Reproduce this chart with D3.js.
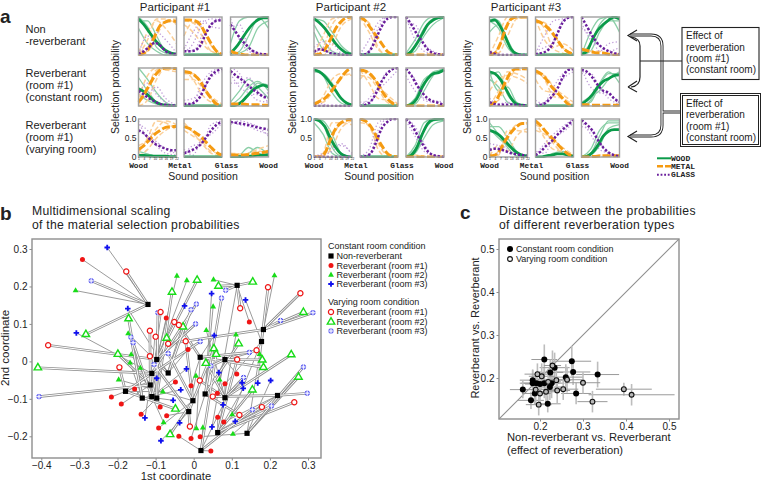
<!DOCTYPE html>
<html>
<head>
<meta charset="utf-8">
<script src="https://cdn.jsdelivr.net/npm/d3@7"></script>
<style>
html, body { margin: 0; padding: 0; background: #fff; }
text { font-family: "Liberation Sans", Arial, sans-serif; fill: #222; }
.mono { font-family: "Liberation Mono", monospace; font-weight: bold; }
</style>
</head>
<body>
<div id="chart"></div>
<script>
// panel a: sound positions the curves were read at
var boldPositions = [1, 4, 7, 10, 13, 16, 19, 22];
var thinPositions = [1, 6, 11, 16, 22];
var positionTicks = [1, 4, 7, 10, 13, 16, 19, 22];
var participants = ["Participant #1", "Participant #2", "Participant #3"];
var rowLabels = [["Non", "-reverberant"], ["Reverberant", "(room #1)", "(constant room)"], ["Reverberant", "(room #1)", "(varying room)"]];
var materialLabels = ["Wood", "Metal", "Glass", "Wood"];
var legendLabels = ["WOOD", "METAL", "GLASS"];
var zero = [0, 0, 0, 0, 0, 0, 0, 0];

// bold curves, 27 panels: participant by participant, row by row
var woodBold = [
  [.95,.8,.6,.4,.25,.12,.05,.02], zero, [.05,.2,.4,.62,.8,.92,.98,.98],
  [.45,.38,.25,.12,.05,.02,0,0], zero, [0,.02,.1,.25,.4,.5,.55,.5],
  [.05,.04,.03,.02,.02,.02,.01,.01], zero, [0,.01,.01,.02,.03,.05,.05,.06],
  [.95,.85,.7,.5,.3,.15,.05,.02], zero, [0,.1,.3,.55,.8,.92,.98,1],
  [.95,.9,.78,.6,.4,.2,.08,.03], zero, [0,.05,.2,.5,.72,.85,.88,.95],
  [1,.95,.8,.5,.25,.08,.02,0], zero, [0,.05,.25,.6,.88,.98,1,1],
  [.9,.92,.75,.45,.15,.03,0,0], zero, [.02,.1,.4,.65,.8,.92,1,.95],
  [.9,.85,.7,.45,.2,.05,.02,0], zero, [.05,.15,.3,.5,.65,.72,.8,.82],
  [.7,.65,.55,.4,.25,.12,.05,.03], [0,0,.03,.05,.08,.08,.05,.02], [0,.02,.12,.3,.55,.68,.72,.72]
];
var metalBold = [
  [0,.05,.2,.5,.78,.87,.9,.88], [.92,.92,.9,.8,.55,.3,.1,.02], [.1,.05,.02,0,0,0,0,0],
  [.1,.3,.55,.8,.95,1,1,.98], [.9,.88,.8,.65,.4,.2,.05,0], [.05,.05,.05,.04,.03,.03,.02,.02],
  [.2,.3,.45,.6,.7,.78,.8,.8], [.8,.75,.65,.55,.4,.25,.12,.05], [.05,.05,.05,.06,.08,.1,.12,.15],
  [0,.02,.15,.4,.7,.88,.98,1], [1,.9,.7,.5,.3,.1,.02,0], zero,
  [.05,.12,.2,.35,.55,.75,.92,1], [.95,.92,.82,.65,.4,.2,.07,.02], zero,
  [0,0,.1,.45,.75,.9,.97,1], [1,.95,.8,.55,.3,.1,.02,0], zero,
  [0,.05,.3,.7,.95,1,1,1], [.9,.85,.75,.6,.4,.2,.08,.02], [.15,.12,.08,.05,.05,.02,0,0],
  [.02,.1,.35,.65,.9,.98,.98,1], [.92,.85,.7,.5,.35,.2,.05,0], [.03,.03,.02,.02,.02,.02,.02,.02],
  [.03,.05,.2,.45,.65,.8,.88,.88], [.95,.82,.65,.5,.35,.2,.08,.02], [0,0,.01,.02,.03,.03,.03,.03]
];
var glassBold = [
  [.03,.1,.22,.32,.25,.1,.04,.02], [.1,.1,.12,.25,.55,.8,.9,.92], [.8,.6,.4,.25,.12,.05,.02,.02],
  [.4,.3,.2,.12,.05,.03,.01,.01], [.05,.05,.1,.25,.55,.8,.92,.97], [.92,.8,.7,.58,.45,.35,.25,.22],
  [.7,.62,.48,.35,.28,.22,.18,.18], [.1,.15,.22,.32,.5,.7,.85,.92], [.92,.9,.88,.85,.82,.78,.75,.72],
  [.08,.15,.12,.05,.02,0,0,0], [0,.02,.15,.45,.75,.95,1,1], [1,.8,.55,.35,.15,.05,.02,0],
  zero, [0,.03,.12,.35,.65,.85,.97,1], [.98,.8,.55,.35,.2,.12,.08,.02],
  zero, [0,.02,.1,.4,.75,.92,1,1], [1,.85,.6,.35,.15,.05,.02,0],
  [.08,.03,0,0,0,0,0,0], [.02,.05,.1,.25,.55,.85,.98,1], [1,.75,.5,.3,.18,.1,.05,.02],
  [.1,.05,.03,.03,.04,.03,.02,.02], [0,.03,.1,.25,.45,.75,.95,.97], [.95,.9,.75,.55,.4,.35,.2,.1],
  [.18,.22,.2,.15,.1,.07,.05,.03], [.05,.15,.3,.42,.58,.72,.85,.97], [.97,.85,.7,.45,.25,.12,.05,.02]
];

// thin curves (single runs), same panel order
var woodThin = [
  [[1,.75,.2,.05,0],[.9,.9,.5,.1,.02],[.7,.3,.1,0,0]], [], [[.3,.9,1,1,.7],[0,.1,.5,.95,1],[0,.05,.2,.7,.9]],
  [[1,.7,.35,.1,0],[.75,.4,.1,0,0],[.3,.15,.05,.02,0]], [], [[.1,.4,.7,.5,.2],[.02,.2,.5,.65,.4],[0,.05,.3,.6,.55]],
  [[.15,.08,.02,0,0]], [], [[0,.05,.25,.1,.02],[0,0,.1,.25,.05]],
  [[.95,.9,.6,.25,.02],[.8,.4,.1,.02,0],[.6,.15,.05,0,0]], [], [[.05,.4,.85,1,1],[0,.25,.7,.95,1],[0,.1,.5,.8,.98]],
  [[.95,.8,.35,.08,0],[.9,.85,.6,.2,.02]], [], [[0,.2,.7,.85,.95],[0,.1,.55,.9,.95],[0,.05,.4,.8,1]],
  [[1,.85,.25,.02,0],[.9,.6,.1,0,0],[1,.95,.6,.1,0]], [], [[0,.3,.9,1,1],[0,.2,.7,.95,1],[0,.1,.5,.85,.95]],
  [[.9,.7,.2,0,0],[1,.9,.4,.02,0],[.6,.8,.3,0,0]], [], [[0,.6,.95,1,.6],[.05,.3,.8,1,1],[0,.1,.6,.9,.9]],
  [[.8,.9,.3,.05,0],[.7,.5,.1,.02,0],[.9,.4,.5,.1,0]], [], [[.02,.1,.55,.85,.85],[.1,.25,.4,.7,.9],[0,.15,.6,.9,.6]],
  [[.8,.8,.5,.15,0],[.9,.6,.25,.03,0],[.75,.5,.3,.1,.02]], [[0,.02,.1,.15,.02]], [[0,.2,.7,.9,.9],[0,.1,.55,.95,.95],[0,.05,.3,.75,.85]]
];
var metalThin = [
  [[.05,.6,.9,.7,.3],[0,.4,.95,.95,.8],[.1,.1,.5,.9,.95]], [[.9,.85,.5,.1,0],[.5,.85,.7,.25,.02],[.8,.6,.3,.1,.03]], [[.05,0,0,0,0]],
  [[.02,.5,.95,1,.95],[.2,.8,1,.95,.9],[0,.15,.7,1,1]], [[.95,.7,.3,.1,0],[.7,.7,.5,.25,.05],[.85,.85,.6,.2,.02]], [],
  [[.1,.5,.95,.9,.7],[.3,.45,.75,.95,.85],[.02,.2,.5,.7,.85]], [[.9,.65,.35,.1,.02],[.7,.55,.4,.15,.1]], [[.05,.02,.1,.2,.3],[.1,.08,.02,.15,.08]],
  [[0,.2,.8,1,1],[0,0,.25,.75,.95],[.02,.5,.95,1,1]], [[.95,.85,.2,0,0],[1,.6,.15,.02,0]], [],
  [[0,.25,.7,.85,.8],[.05,.1,.35,.75,.85]], [[.8,.75,.45,.1,0],[.95,.6,.2,.15,.05],[.7,.9,.55,.3,.05]], [],
  [[0,.02,.5,.9,.98],[0,.1,.9,.9,.85],[0,.02,.25,.75,.95]], [[1,.8,.35,.05,0],[.9,.85,.2,0,0]], [[.02,.05,.02,0,0]],
  [[0,.5,1,1,1],[0,.2,.85,1,1],[0,.05,.5,.95,1]], [[.95,.4,.15,.05,0],[.9,.85,.55,.2,.05],[.95,.7,.2,.3,.1]], [[.15,.1,.1,.02,0]],
  [[0,.4,.9,.85,.7],[.05,.15,.6,.95,.95],[.4,.7,.8,.75,.6]], [[.95,.7,.25,.2,.02],[.85,.8,.5,.3,.1],[.7,.4,.35,.2,.02]], [],
  [[0,.15,.55,.85,.9],[.02,.3,.15,.55,.75],[0,.05,.7,.7,.65]], [[.85,.7,.35,.1,0],[.95,.5,.2,.15,.02],[.7,.6,.45,.25,.05]], [[0,0,.05,.02,.02]]
];
var glassThin = [
  [[.1,.2,.6,.4,.05],[.02,.5,.3,.1,0]], [[.05,.3,.8,.95,.9],[.2,.1,.5,.8,1],[.15,.6,.9,.75,.7]], [[.95,.4,.1,.02,0],[.7,.8,.2,.05,0]],
  [[.3,.6,.3,.1,0],[.1,.3,.5,.2,.02]], [[0,.1,.6,.9,1],[.15,.2,.4,.75,.9]], [[1,.85,.4,.15,.1],[.85,.5,.35,.3,.35],[.6,.6,.75,.4,.1]],
  [[.85,.7,.3,.1,.05],[.95,.5,.4,.2,.1]], [[.05,.3,.35,.85,.95],[.2,.05,.5,.6,.9]], [[.95,.85,.8,.7,.6],[.85,.95,.9,.8,.55]],
  [[.2,.35,.1,0,0],[.05,.2,.3,.05,0]], [[0,.1,.7,1,1],[.02,.4,.85,1,1]], [[1,.4,.1,.02,0],[.85,.8,.3,.1,0]],
  [[.1,.05,0,0,0]], [[0,.2,.5,.9,1],[.1,.1,.4,.65,.95]], [[.8,.4,.2,.15,.1],[.95,.7,.15,.1,.05]],
  [[.02,.1,.25,.3,.1],[0,.05,.15,.35,.05]], [[0,.05,.7,1,1],[.02,.2,.9,1,1]], [[.95,.55,.15,.05,0],[1,.8,.35,.05,0]],
  [[.1,.02,0,0,0]], [[.05,.5,.9,.95,1],[.1,.2,.35,.9,1]], [[.85,.4,.25,.1,.2],[.7,.5,.1,.3,.35]],
  [[.2,.05,.1,.02,0]], [[.05,.1,.5,.85,1],[.15,.05,.3,.7,.9]], [[.85,.85,.5,.2,.05],[1,.5,.35,.3,.1]],
  [[.35,.3,.2,.1,.05],[.05,.1,.3,.1,.02]], [[.05,.35,.6,.8,1],[.15,.1,.5,.65,.9]], [[.95,.6,.2,.1,0],[.8,.7,.4,.05,.02]]
];

// panel b: [1st coordinate, 2nd coordinate]
var nonReverb = [
  [-.120,.152],[-.097,.005],[-.110,-.032],[-.067,-.031],[-.114,-.063],[-.179,-.080],[-.135,-.098],[-.110,-.094],
  [-.097,-.098],[-.002,-.105],[-.013,-.134],[.114,.203],[.183,.085],[.178,.053],[.017,.011],[.082,.005],
  [.220,-.091],[.030,-.087],[.082,-.097],[.063,-.190],[.140,-.192],[.019,-.238]
];
// the rest: [1st, 2nd, index of the linked non-reverberant point]
var constRoom1 = [
  [-.292,.272,0],[-.072,.116,1],[-.015,.032,3],[-.048,-.055,7],[-.155,-.074,6],[-.007,-.065,14],[-.216,-.095,5],
  [-.190,-.114,4],[-.088,-.122,2],[-.138,-.141,8],[-.071,-.145,10],[-.092,-.178,9],[-.039,-.200,21],[-.007,-.206,17],
  [.146,.105,11],[.113,-.034,15],[.082,-.060,18],[.062,-.085,13],[.063,-.149,19],[.079,-.162,16],[.017,-.201,20],[.045,-.239,21]
];
var constRoom2 = [
  [-.310,.189,0],[-.044,.228,1],[-.018,.216,2],[-.172,.074,3],[-.164,.018,4],[-.167,-.004,6],[-.140,-.018,8],[-.197,-.049,9],
  [-.081,-.081,5],[-.079,-.163,7],[.006,-.039,10],[.007,-.179,14],[.052,.218,11],[.212,.229,12],[.051,.146,17],[.033,.083,18],
  [.111,.071,19],[.068,-.049,15],[.173,.019,20],[.101,-.142,13],[.024,-.177,21],[.103,-.194,16]
];
var constRoom3 = [
  [-.227,.304,0],[-.173,.141,3],[-.024,.148,1],[-.308,.076,2],[-.019,-.020,7],[-.097,-.045,5],[-.034,-.076,6],[-.054,-.104,8],
  [-.128,-.151,4],[-.037,-.164,9],[-.086,-.212,10],[.047,.181,17],[.136,.164,13],[.054,.069,14],[.066,-.030,15],[.127,-.057,18],
  [.168,-.058,12],[.202,-.051,20],[.130,-.072,19],[.077,-.116,21],[.109,-.160,16],[.048,-.175,11]
];
var varyRoom1 = [
  [-.177,.240,0],[-.087,.132,2],[-.051,.105,1],[-.039,.097,14],[-.115,.082,4],[-.100,.066,7],[-.067,.047,12],[-.021,.054,9],
  [-.382,.043,1],[-.115,.014,3],[-.195,-.016,5],[.016,-.051,18],[-.010,-.174,10],[.195,.198,13],[.280,.182,12],[.122,.142,11],
  [.165,.030,15],[.114,.005,19],[.050,-.094,16],[.264,-.109,19],[.179,-.122,19],[.120,-.143,17]
];
var varyRoom2 = [
  [-.409,-.017,2],[-.283,.072,0],[-.199,.019,4],[-.171,.114,6],[-.057,.185,8],[.009,.217,1],[-.071,.062,7],[-.028,.092,3],
  [-.048,-.127,5],[-.062,-.195,9],[.065,.201,11],[.155,.212,11],[.288,.131,12],[.118,.047,17],[.053,.034,10],[.059,.019,21],
  [.032,-.005,18],[.180,.004,15],[.183,-.016,14],[.256,.018,18],[.275,-.042,20],[.154,-.076,19]
];
var varyRoom3 = [
  [-.269,.215,0],[-.094,.130,8],[-.007,.138,3],[.007,.153,2],[.005,.100,1],[-.165,.065,6],[-.159,.050,7],[-.067,.021,9],
  [-.104,-.008,10],[-.406,-.094,4],[.084,.190,11],[.073,.169,17],[.017,.053,5],[.228,.109,12],[.313,.130,12],[.146,.024,14],
  [.288,-.015,20],[.045,-.012,15],[.131,-.043,18],[.298,-.085,16],[.204,-.119,19],[.154,-.129,21]
];
var mdsXTicks = [-.4, -.3, -.2, -.1, 0, .1, .2, .3];
var mdsYTicks = [-.2, -.1, 0, .1, .2, .3];

// panel c: [x, y, x error, y error]
var constDistance = [
  [.210,.243,.030,.035],[.274,.239,.045,.035],[.234,.224,.035,.035],[.224,.213,.030,.030],[.277,.214,.040,.030],
  [.334,.208,.050,.030],[.260,.202,.040,.030],[.183,.195,.030,.025],[.183,.188,.030,.030],[.192,.188,.035,.025],
  [.200,.186,.035,.030],[.210,.188,.035,.035],[.227,.188,.030,.035],[.160,.173,.030,.020],[.223,.179,.035,.030],
  [.188,.164,.030,.025],[.284,.164,.035,.025],[.179,.148,.030,.020],[.218,.140,.030,.020]
];
var varyDistance = [
  [.229,.229,.020,.035],[.194,.209,.030,.025],[.204,.204,.030,.030],[.238,.195,.035,.030],[.263,.196,.040,.030],
  [.219,.191,.030,.030],[.300,.189,.040,.025],[.190,.173,.030,.030],[.395,.174,.065,.015],[.254,.174,.035,.025],
  [.240,.171,.030,.030],[.200,.164,.025,.030],[.214,.168,.030,.030],[.413,.161,.100,.025],[.322,.145,.035,.025],[.197,.138,.030,.025]
];
var distTicks = [.2, .3, .4, .5];
var distLimits = [.105, .523];

var svg = d3.select("#chart").append("svg").attr("width", 761).attr("height", 481);

var woodColor = "#0b9b4a", metalColor = "#f59b12", glassColor = "#6a1f9c";
var gray = "#8e8e8e";

// --- panel a ---
var panelSize = 38;
var columnX = [[138.5, 184, 230.5], [314, 360, 406], [489.5, 535.5, 581.5]];
var rowY = [17, 68, 119];
var titleX = [175, 351, 526];
var ylabelX = [119, 296, 471];

var panelX = d3.scaleLinear().domain([1, 22]).range([0, panelSize]);
var panelY = d3.scaleLinear().domain([0, 1]).range([panelSize, 0]);
var boldLine = d3.line().x(function (d, i) { return panelX(boldPositions[i]); }).y(function (d) { return panelY(d); }).curve(d3.curveMonotoneX);
var thinLine = d3.line().x(function (d, i) { return panelX(thinPositions[i]); }).y(function (d) { return panelY(d); }).curve(d3.curveMonotoneX);

var clip = svg.append("clipPath").attr("id", "panelClip").append("rect")
  .attr("x", -1).attr("y", -1).attr("width", panelSize + 2).attr("height", panelSize + 2);

function drawPanel(x, y, index) {
  var g = svg.append("g").attr("transform", "translate(" + x + "," + y + ")");
  var inner = g.append("g").attr("clip-path", "url(#panelClip)");
  function thin(curves, color, dash, width) {
    curves.forEach(function (c) {
      inner.append("path").attr("d", thinLine(c)).attr("fill", "none")
        .attr("stroke", color).attr("stroke-width", width).attr("stroke-dasharray", dash);
    });
  }
  thin(woodThin[index], "#8ccfa8", null, 1.3);
  thin(metalThin[index], "#fbcf98", "5,2.5", 1.5);
  thin(glassThin[index], "#bf9cd8", "1.3,2.2", 1.3);
  inner.append("path").attr("d", boldLine(woodBold[index])).attr("fill", "none")
    .attr("stroke", woodColor).attr("stroke-width", 2.8);
  inner.append("path").attr("d", boldLine(metalBold[index])).attr("fill", "none")
    .attr("stroke", metalColor).attr("stroke-width", 3).attr("stroke-dasharray", "8,2.5");
  inner.append("path").attr("d", boldLine(glassBold[index])).attr("fill", "none")
    .attr("stroke", glassColor).attr("stroke-width", 2.5).attr("stroke-dasharray", "2.4,1.8");
  g.append("rect").attr("width", panelSize).attr("height", panelSize)
    .attr("fill", "none").attr("stroke", "#a0a0a0").attr("stroke-width", 1.4);
  return g;
}

participants.forEach(function (name, p) {
  svg.append("text").attr("x", titleX[p]).attr("y", 10.5).attr("text-anchor", "middle")
    .attr("font-size", 11.5).text(name);
  rowY.forEach(function (y, r) {
    columnX[p].forEach(function (x, c) {
      drawPanel(x, y, p * 9 + r * 3 + c);
    });
  });
  // ticks of the bottom left panel
  var corner = svg.append("g").attr("transform", "translate(" + columnX[p][0] + "," + rowY[2] + ")");
  var yAxis = d3.axisLeft(panelY).tickValues([0, .5, 1]).tickSize(0).tickPadding(2)
    .tickFormat(function (d) { return d === 0 ? "0" : d3.format(".1f")(d); });
  corner.append("g").call(yAxis).call(function (s) {
    s.select(".domain").remove();
    s.selectAll("text").attr("font-size", 8.5).attr("font-family", null);
  });
  var xAxis = d3.axisBottom(panelX).tickValues(positionTicks).tickSize(0).tickPadding(1);
  corner.append("g").attr("transform", "translate(0," + panelSize + ")").call(xAxis).call(function (s) {
    s.select(".domain").remove();
    s.selectAll("text").attr("font-size", 3.2).attr("font-family", null);
  });
  // material names under the row
  var matX = [columnX[p][0], columnX[p][1] - 4, columnX[p][2] - 4, columnX[p][2] + panelSize];
  materialLabels.forEach(function (m, i) {
    svg.append("text").attr("class", "mono").attr("x", matX[i]).attr("y", 167.5)
      .attr("text-anchor", "middle").attr("font-size", 7.8).text(m);
  });
  svg.append("text").attr("x", columnX[p][1] + panelSize / 2).attr("y", 180)
    .attr("text-anchor", "middle").attr("font-size", 10.5).text("Sound position");
  svg.append("text").attr("transform", "translate(" + ylabelX[p] + ",87) rotate(-90)")
    .attr("text-anchor", "middle").attr("font-size", 10.5).text("Selection probability");
});

svg.append("text").attr("x", 0).attr("y", 23).attr("font-size", 19).attr("font-weight", "bold").text("a");

var rowTextY = [[33, 45], [77, 89, 101], [129, 141, 153]];
rowLabels.forEach(function (lines, r) {
  lines.forEach(function (t, i) {
    svg.append("text").attr("x", 25.5).attr("y", rowTextY[r][i]).attr("font-size", 11).text(t);
  });
});

// legend for panel a
var legendY = [158.3, 166.3, 174.7];
legendLabels.forEach(function (t, i) {
  var styles = [[woodColor, 2, null], [metalColor, 2.6, "6,2"], [glassColor, 2, "1.8,1.8"]];
  svg.append("line").attr("x1", 657).attr("x2", 671).attr("y1", legendY[i]).attr("y2", legendY[i])
    .attr("stroke", styles[i][0]).attr("stroke-width", styles[i][1]).attr("stroke-dasharray", styles[i][2]);
  svg.append("text").attr("class", "mono").attr("x", 671).attr("y", legendY[i] + 2.5)
    .attr("font-size", 8).text(t);
});

// boxes and arrows on the right of panel a
svg.append("rect").attr("x", 682).attr("y", 27.5).attr("width", 77).attr("height", 52)
  .attr("fill", "#fff").attr("stroke", "#222").attr("stroke-width", 1.1);
svg.append("rect").attr("x", 680.5).attr("y", 93.5).attr("width", 80).attr("height", 53)
  .attr("fill", "#fff").attr("stroke", "#222").attr("stroke-width", 1);
svg.append("rect").attr("x", 682.5).attr("y", 95.5).attr("width", 76).attr("height", 49)
  .attr("fill", "#fff").attr("stroke", "#222").attr("stroke-width", 1);
[[39, 50.5, 62, 73], [106.5, 118, 130, 141]].forEach(function (ys, b) {
  ["Effect of", "reverberation", "(room #1)", "(constant room)"].forEach(function (t, i) {
    svg.append("text").attr("x", 686).attr("y", ys[i]).attr("font-size", 10).text(t);
  });
});
// double lined arrow
var doubleArrow = "M630,35 H651 Q662,35 662,46 V125 Q662,136 651,136 H630 M662,112 H680";
svg.append("path").attr("d", doubleArrow).attr("fill", "none").attr("stroke", "#222").attr("stroke-width", 3);
svg.append("path").attr("d", doubleArrow).attr("fill", "none").attr("stroke", "#fff").attr("stroke-width", 1.2);
svg.append("path").attr("d", "M637,30 L628,35.5 L637,41 M637,131 L628,136.5 L637,142").attr("fill", "none").attr("stroke", "#222").attr("stroke-width", 1.2);
// single lined arrow
svg.append("path").attr("d", "M631,37 Q640,38 640,46 V77 Q640,86 631,87 M628,87 L637,81 M628,87 L637,92 M640,61 H682")
  .attr("fill", "none").attr("stroke", "#222").attr("stroke-width", 1.2);

// --- panel b ---
var mdsX = d3.scaleLinear().domain([-.4, .3]).range([41.3, 308]);
var mdsY = d3.scaleLinear().domain([-.2, .3]).range([436.3, 249]);

svg.append("text").attr("x", 0).attr("y", 220).attr("font-size", 19).attr("font-weight", "bold").text("b");
svg.append("text").attr("x", 32).attr("y", 215).attr("font-size", 12.2).attr("letter-spacing", .27).text("Multidimensional scaling");
svg.append("text").attr("x", 32).attr("y", 229).attr("font-size", 12.2).attr("letter-spacing", .27).text("of the material selection probabilities");

svg.append("rect").attr("x", 32).attr("y", 239).attr("width", 289).attr("height", 219)
  .attr("fill", "#fff").attr("stroke", gray).attr("stroke-width", 1.4);

function styleAxis(s) {
  s.select(".domain").remove();
  s.selectAll("line").attr("stroke", gray);
  s.selectAll("text").attr("font-size", 10).attr("font-family", null);
}
svg.append("g").attr("transform", "translate(0,458)")
  .call(d3.axisBottom(mdsX).tickValues(mdsXTicks).tickSize(2.5).tickPadding(1)
    .tickFormat(function (d) { return d === 0 ? "0" : d3.format(".1f")(d).replace("-", "\u2212"); }))
  .call(styleAxis);
svg.append("g").attr("transform", "translate(32,0)")
  .call(d3.axisLeft(mdsY).tickValues(mdsYTicks).tickSize(2.5).tickPadding(2)
    .tickFormat(function (d) { return d === 0 ? "0" : d3.format(".1f")(d).replace("-", "\u2212"); }))
  .call(styleAxis);
svg.append("text").attr("x", 176).attr("y", 480).attr("text-anchor", "middle").attr("font-size", 11.2).text("1st coordinate");
svg.append("text").attr("transform", "translate(9,348) rotate(-90)").attr("text-anchor", "middle").attr("font-size", 11.5).text("2nd coordinate");

function links(points, doubled) {
  var g = svg.append("g");
  points.forEach(function (d) {
    var o = nonReverb[d[2]];
    g.append("line").attr("x1", mdsX(d[0])).attr("y1", mdsY(d[1])).attr("x2", mdsX(o[0])).attr("y2", mdsY(o[1]))
      .attr("stroke", "#909090").attr("stroke-width", doubled ? 2.6 : .9);
  });
  if (doubled) {
    points.forEach(function (d) {
      var o = nonReverb[d[2]];
      g.append("line").attr("x1", mdsX(d[0])).attr("y1", mdsY(d[1])).attr("x2", mdsX(o[0])).attr("y2", mdsY(o[1]))
        .attr("stroke", "#fff").attr("stroke-width", 1);
    });
  }
}
[constRoom1, constRoom2, constRoom3].forEach(function (p) { links(p, false); });
[varyRoom1, varyRoom2, varyRoom3].forEach(function (p) { links(p, true); });

var symbolMarks = {
  square: function (g) { g.append("path").attr("d", d3.symbol(d3.symbolSquare, 27)()).attr("fill", "#000"); },
  dot: function (g) { g.append("circle").attr("r", 2.5).attr("fill", "#f01515"); },
  tri: function (g) { g.append("path").attr("d", d3.symbol(d3.symbolTriangle, 15)()).attr("fill", "#18dc18"); },
  plus: function (g) { g.append("path").attr("d", d3.symbol(d3.symbolCross, 17)()).attr("fill", "#1010ee"); },
  ring: function (g) { g.append("circle").attr("r", 2.6).attr("fill", "#fff").attr("stroke", "#ee1515").attr("stroke-width", 1.2); },
  bigTri: function (g) { g.append("path").attr("d", d3.symbol(d3.symbolTriangle, 24)()).attr("fill", "#fff").attr("stroke", "#18dc18").attr("stroke-width", 1.4); },
  crossRing: function (g) {
    g.append("circle").attr("r", 2.3).attr("fill", "#a8a8fa").attr("stroke", "#4a4af0").attr("stroke-width", 1);
    g.append("path").attr("d", "M-3.3,0H3.3M0,-3.3V3.3").attr("stroke", "#fff").attr("stroke-width", .8);
  }
};
function marks(points, kind) {
  points.forEach(function (d) {
    symbolMarks[kind](svg.append("g").attr("transform", "translate(" + mdsX(d[0]) + "," + mdsY(d[1]) + ")"));
  });
}
marks(varyRoom3, "crossRing");
marks(constRoom3, "plus");
marks(constRoom2, "tri");
marks(varyRoom2, "bigTri");
marks(constRoom1, "dot");
marks(varyRoom1, "ring");
marks(nonReverb, "square");

// legend b
var legendGroups = [
  { y: 247.5, title: "Constant room condition", rows: [["square", "Non-reverberant"], ["dot", "Reverberant (room #1)"], ["tri", "Reverberant (room #2)"], ["plus", "Reverberant (room #3)"]], rowY: [256, 265.5, 275, 284] },
  { y: 304, title: "Varying room condition", rows: [["ring", "Reverberant (room #1)"], ["bigTri", "Reverberant (room #2)"], ["crossRing", "Reverberant (room #3)"]], rowY: [312, 322, 331] }
];
legendGroups.forEach(function (l) {
  svg.append("text").attr("x", 328).attr("y", l.y + 1).attr("font-size", 9).text(l.title);
  l.rows.forEach(function (r, i) {
    symbolMarks[r[0]](svg.append("g").attr("transform", "translate(331," + l.rowY[i] + ")"));
    svg.append("text").attr("x", 336.5).attr("y", l.rowY[i] + 3).attr("font-size", 9).text(r[1]);
  });
});

// --- panel c ---
var distX = d3.scaleLinear().domain([.2, .5]).range([540, 669]);
var distY = d3.scaleLinear().domain([.2, .5]).range([378, 249]);

svg.append("text").attr("x", 460).attr("y", 219).attr("font-size", 19).attr("font-weight", "bold").text("c");
svg.append("text").attr("x", 499).attr("y", 215).attr("font-size", 12.2).attr("letter-spacing", .33).text("Distance between the probabilities");
svg.append("text").attr("x", 499).attr("y", 229).attr("font-size", 12.2).attr("letter-spacing", .33).text("of different reverberation types");

svg.append("rect").attr("x", 499).attr("y", 239).attr("width", 180).attr("height", 180)
  .attr("fill", "#fff").attr("stroke", gray).attr("stroke-width", 1.4);
svg.append("line").attr("x1", distX(distLimits[0])).attr("y1", distY(distLimits[0]))
  .attr("x2", distX(distLimits[1])).attr("y2", distY(distLimits[1])).attr("stroke", gray).attr("stroke-width", 1.1);

svg.append("g").attr("transform", "translate(0,419)")
  .call(d3.axisBottom(distX).tickValues(distTicks).tickSize(2.5).tickPadding(1).tickFormat(d3.format(".1f")))
  .call(styleAxis);
svg.append("g").attr("transform", "translate(499,0)")
  .call(d3.axisLeft(distY).tickValues(distTicks).tickSize(2.5).tickPadding(2).tickFormat(d3.format(".1f")))
  .call(styleAxis);

svg.append("text").attr("x", 507).attr("y", 441).attr("font-size", 11.2).text("Non-reverberant vs. Reverberant");
svg.append("text").attr("x", 507).attr("y", 454).attr("font-size", 11.2).text("(effect of reverberation)");
svg.append("text").attr("transform", "translate(479,328) rotate(-90)").attr("text-anchor", "middle").attr("font-size", 11).text("Reverberant vs. Reverberant");

function errorBars(points) {
  points.forEach(function (d) {
    svg.append("line").attr("x1", distX(d[0] - d[2])).attr("x2", distX(d[0] + d[2])).attr("y1", distY(d[1])).attr("y2", distY(d[1]))
      .attr("stroke", "#9a9a9a").attr("stroke-width", 1);
    svg.append("line").attr("x1", distX(d[0])).attr("x2", distX(d[0])).attr("y1", distY(d[1] - d[3])).attr("y2", distY(d[1] + d[3]))
      .attr("stroke", "#bdbdbd").attr("stroke-width", 1.6);
  });
}
errorBars(constDistance);
errorBars(varyDistance);
constDistance.forEach(function (d) {
  svg.append("circle").attr("cx", distX(d[0])).attr("cy", distY(d[1])).attr("r", 3).attr("fill", "#000");
});
varyDistance.forEach(function (d) {
  svg.append("circle").attr("cx", distX(d[0])).attr("cy", distY(d[1])).attr("r", 2.4)
    .attr("fill", "#b8b8b8").attr("stroke", "#111").attr("stroke-width", 1.1);
});
svg.append("circle").attr("cx", 510).attr("cy", 249).attr("r", 3).attr("fill", "#000");
svg.append("circle").attr("cx", 510).attr("cy", 259).attr("r", 2.4).attr("fill", "#fff").attr("stroke", "#111").attr("stroke-width", 1.1);
svg.append("text").attr("x", 516).attr("y", 252).attr("font-size", 9).text("Constant room condition");
svg.append("text").attr("x", 516).attr("y", 262).attr("font-size", 9).text("Varying room condition");
</script>
</body>
</html>
